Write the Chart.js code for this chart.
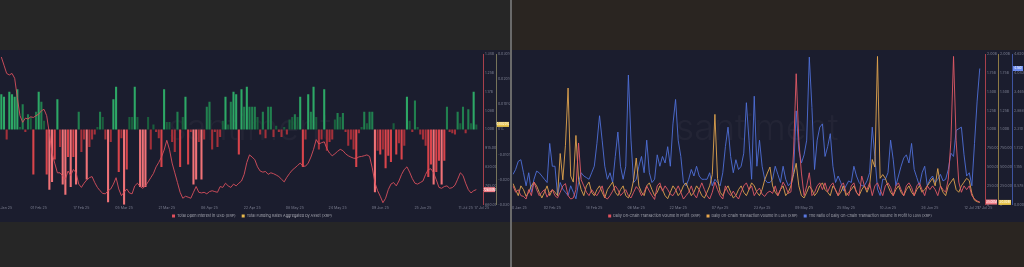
<!DOCTYPE html>
<html>
<head>
<meta charset="utf-8">
<script src="https://cdn.jsdelivr.net/npm/chart.js@4.4.1/dist/chart.umd.min.js"></script>
<style>
  html, body { margin: 0; padding: 0; width: 1024px; height: 267px; overflow: hidden; background: #262626; }
  #rightBg { position: absolute; left: 512px; top: 0; width: 512px; height: 267px; background: #2a2521; }
  #divider { position: absolute; left: 510px; top: 0; width: 2px; height: 267px; background: #6a6a6a; }
  .panel { position: absolute; top: 50px; height: 172px; background: #1b1d2e; }
  #leftPanel { left: 0; width: 510px; }
  #rightPanel { left: 512px; width: 512px; }
</style>
</head>
<body>
<div id="rightBg"></div>
<div id="divider"></div>
<div class="panel" id="leftPanel"><canvas id="left" width="510" height="172"></canvas></div>
<div class="panel" id="rightPanel"><canvas id="right" width="512" height="172"></canvas></div>
<script>
// daily values, XRP, Jan - Jul 2025
const startDay = Date.UTC(2025, 0, 18)
const dayCount = 181
const months = ["Jan", "Feb", "Mar", "Apr", "May", "Jun", "Jul", "Aug", "Sep", "Oct", "Nov", "Dec"]

const leftTickDays = [1, 14, 30, 46, 62, 78, 94, 110, 126, 142, 158, 174, 180]
const rightTickDays = [2, 15, 31, 47, 63, 79, 95, 111, 127, 143, 159, 175, 180]

// open interest in USD, millions
const openInterest = [
  1327, 1290, 1253, 1246, 1253, 1231, 1143, 1062, 1032, 1051,
  1047, 1057, 1054, 1062, 1069, 1084, 1091, 1062, 981, 893,
  848, 804, 804, 790, 775, 812, 792, 819, 804, 753,
  738, 757, 772, 782, 787, 760, 738, 723, 711, 709,
  723, 731, 753, 782, 731, 701, 716, 731, 713, 709,
  745, 757, 742, 734, 745, 763, 782, 801, 831, 851,
  875, 907, 951, 910, 848, 804, 760, 716, 689, 698,
  694, 689, 716, 742, 716, 713, 716, 709, 719, 723,
  719, 716, 742, 738, 757, 745, 738, 753, 745, 757,
  767, 797, 851, 885, 875, 863, 831, 812, 807, 810,
  797, 804, 800, 794, 787, 775, 763, 784, 801, 816,
  826, 837, 848, 834, 834, 848, 875, 910, 954, 934,
  940, 944, 913, 893, 881, 890, 901, 910, 904, 890,
  881, 875, 870, 869, 876, 878, 881, 885, 878, 826,
  760, 723, 698, 669, 689, 728, 753, 760, 745, 767,
  797, 819, 831, 807, 778, 757, 753, 760, 767, 797,
  819, 822, 804, 772, 738, 734, 742, 745, 734, 737,
  748, 775, 804, 792, 757, 728, 713, 723, 728
]

// aggregated funding rate, percent
const fundingRates = [
  0.014, 0.013, -0.004, 0.015, 0.014, 0.013, 0.016, 0.001, 0.010, -0.001,
  0.006, 0.005, -0.018, 0.007, 0.015, 0.011, 0.0035, -0.018, -0.024, -0.021,
  -0.012, 0.012, -0.007, -0.022, -0.026, -0.011, -0.023, -0.011, -0.022, 0.007,
  -0.009, -0.004, -0.020, -0.007, -0.004, -0.002, 0.001, 0.007, 0.005, -0.004,
  -0.029, -0.005, 0.012, 0.017, -0.017, -0.0035, -0.030, -0.016, 0.005, 0.005,
  0.017, 0.005, -0.023, -0.023, -0.023, 0.005, -0.008, 0.002, -0.001, -0.0035,
  -0.015, 0.016, 0.003, 0.003, -0.005, -0.009, 0.007, -0.015, 0.005, 0.013,
  -0.014, -0.001, -0.022, -0.020, -0.005, -0.020, -0.004, 0.009, 0.011, -0.008,
  -0.001, -0.007, -0.003, 0.0035, 0.013, 0.002, 0.011, 0.015, 0.014, -0.010,
  0.016, 0.009, 0.017, 0.009, 0.009, 0.009, 0.005, -0.002, 0.007, -0.0035,
  0.009, 0.009, -0.003, 0.0015, -0.001, -0.003, 0.001, -0.002, 0.004, 0.005,
  0.006, 0.005, 0.013, -0.015, -0.004, 0.014, 0.007, 0.017, 0.005, -0.008,
  -0.004, 0.016, -0.0085, -0.005, -0.004, 0.004, 0.0065, 0.005, 0.0065, -0.001,
  -0.0065, -0.004, -0.008, -0.015, -0.0015, 0.001, 0.007, 0.0025, 0.007, 0.007,
  -0.025, -0.0085, -0.010, -0.008, -0.0155, -0.0105, -0.013, 0.0025, -0.010, -0.0055,
  -0.012, -0.0065, 0.013, 0.0035, -0.001, 0.0115, 0.001, -0.002, -0.004, -0.0065,
  -0.019, -0.014, -0.022, -0.017, -0.0125, -0.022, -0.0125, 0.009, -0.001, -0.0015,
  -0.002, 0.007, 0.0025, 0.009, -0.0015, 0.008, 0.0025, 0.015, 0.002
]

// on-chain volume in profit, millions XRP
const volumeProfit = [
  250, 165, 200, 120, 110, 75, 200, 120, 300, 200,
  120, 165, 200, 100, 165, 200, 120, 90, 165, 250,
  280, 120, 75, 90, 200, 820, 330, 250, 165, 120,
  200, 150, 120, 180, 250, 100, 75, 120, 180, 250,
  200, 120, 160, 200, 120, 90, 165, 240, 200, 120,
  165, 250, 180, 120, 70, 250, 290, 180, 250, 200,
  140, 120, 180, 250, 165, 75, 120, 165, 250, 140,
  90, 200, 290, 200, 120, 75, 165, 300, 200, 120,
  75, 250, 165, 120, 180, 120, 75, 165, 250, 290,
  200, 250, 120, 180, 220, 140, 110, 160, 180, 150,
  250, 120, 200, 300, 240, 150, 170, 700, 1740, 850,
  420, 120, 250, 424, 120, 160, 250, 290, 200, 290,
  170, 250, 290, 190, 120, 250, 290, 160, 120, 250,
  290, 160, 120, 380, 250, 200, 290, 120, 250, 290,
  200, 120, 250, 290, 230, 120, 250, 290, 200, 120,
  250, 290, 230, 120, 250, 290, 200, 120, 250, 200,
  250, 200, 120, 250, 200, 165, 340, 850, 1970, 850,
  300, 165, 250, 200, 250, 120, 75, 50, 35
]

// on-chain volume in loss, millions XRP
const volumeLoss = [
  280, 200, 120, 250, 200, 110, 165, 250, 300, 250,
  165, 90, 165, 250, 120, 200, 165, 120, 680, 330,
  790, 1550, 380, 300, 920, 340, 200, 120, 250, 300,
  165, 120, 200, 250, 165, 90, 200, 250, 300, 165,
  120, 200, 250, 120, 90, 165, 330, 620, 250, 165,
  120, 250, 290, 200, 120, 165, 250, 200, 120, 80,
  165, 250, 200, 120, 165, 250, 290, 200, 120, 165,
  250, 200, 120, 90, 165, 250, 400, 1200, 350, 165,
  120, 200, 250, 165, 90, 120, 200, 250, 165, 120,
  200, 290, 250, 165, 120, 200, 330, 420, 500, 250,
  165, 120, 200, 250, 120, 165, 250, 400, 550, 250,
  120, 90, 165, 250, 200, 120, 165, 250, 290, 200,
  165, 120, 250, 200, 120, 165, 250, 120, 165, 200,
  250, 165, 120, 200, 250, 165, 250, 600, 500, 1970,
  350, 400, 350, 250, 165, 120, 200, 250, 165, 120,
  200, 250, 165, 120, 200, 250, 165, 200, 250, 300,
  350, 250, 480, 250, 165, 120, 250, 300, 350, 200,
  165, 250, 300, 350, 320, 150, 60, 40, 30
]

// ratio of volume in profit to volume in loss
const profitLossRatio = [
  0.93, 1.08, 1.33, 1.38, 0.98, 0.58, 0.98, 0.38, 0.78, 1.03,
  0.98, 0.88, 0.78, 0.68, 1.88, 1.18, 1.18, 0.28, 0.68, 0.48,
  0.38, 0.28, 0.58, 0.38, 0.18, 0.68, 0.98, 0.88, 0.83, 0.78,
  0.98, 1.18, 1.88, 2.73, 1.98, 1.18, 0.78, 0.98, 0.68, 1.48,
  2.23, 1.18, 0.78, 1.18, 3.98, 1.98, 0.68, 0.78, 1.18, 1.48,
  0.98, 1.98, 0.98, 0.68, 0.78, 1.53, 1.18, 1.48, 1.28, 1.78,
  1.18, 2.48, 3.23, 1.98, 1.48, 0.68, 0.58, 0.78, 1.08, 0.88,
  1.18, 0.88, 0.78, 0.78, 0.78, 0.98, 0.58, 0.78, 0.68, 0.58,
  0.98, 1.78, 2.38, 1.48, 0.98, 1.38, 1.08, 1.18, 1.58, 3.13,
  1.98, 0.78, 3.33, 1.18, 1.98, 1.18, 0.78, 0.68, 0.68, 0.78,
  1.18, 0.93, 0.68, 1.18, 0.78, 0.58, 0.68, 0.98, 2.88, 1.68,
  1.28, 1.53, 1.98, 4.53, 2.98, 1.08, 1.98, 2.38, 2.48, 1.48,
  1.78, 2.18, 1.18, 0.68, 0.88, 0.68, 0.43, 0.58, 0.73, 0.68,
  1.18, 0.88, 0.68, 0.58, 0.58, 0.73, 0.98, 2.38, 1.48, 0.48,
  0.28, 0.78, 0.78, 0.98, 1.98, 1.38, 0.58, 0.88, 1.18, 1.43,
  1.53, 1.28, 1.88, 1.08, 0.83, 0.58, 0.98, 1.18, 0.58, 0.78,
  0.88, 0.68, 0.78, 0.93, 0.73, 0.78, 1.08, 1.58, 1.48, 2.28,
  2.33, 2.38, 1.53, 0.88, 0.98, 0.58, 1.88, 3.18, 4.18
]

const leftLegend = ["Total Open Interest in USD (XRP)", "Total Funding Rates Aggregated by Asset (XRP)"]
const leftLegendColors = ["#e0505c", "#e8b94c"]
const rightLegend = [
  "Daily On-Chain Transaction Volume in Profit (XRP)",
  "Daily On-Chain Transaction Volume in Loss (XRP)",
  "The Ratio of Daily On-Chain Transaction Volume in Profit to Loss (XRP)",
]
const rightLegendColors = ["#e0505c", "#e8a64c", "#5a78e0"]

const days = []
for (let k = 0; k < dayCount; k++) {
  const d = new Date(startDay + k * 86400000)
  days.push(String(d.getUTCDate()).padStart(2, "0") + " " + months[d.getUTCMonth()] + " 25")
}

const tickFont = { family: "Inter", size: 3.6 }
const tickColor = "#7b7e90"

function formatUsd(v) {
  if (v === 0) return "0"
  if (v >= 1000) return (v / 1000).toFixed(2) + "B"
  return v.toFixed(2) + "M"
}

function barColor(v) {
  if (v >= 0) {
    if (v >= 0.012) return "#2da866"
    if (v >= 0.006) return "#21804f"
    return "#1a5f3d"
  }
  if (v <= -0.02) return "#f07277"
  if (v <= -0.01) return "#d8444b"
  return "#a3303a"
}

function xAxis(tickDays, offset) {
  return {
    type: "category",
    offset: offset,
    grid: { display: false, drawTicks: false },
    border: { display: false },
    ticks: {
      autoSkip: false, maxRotation: 0, minRotation: 0, padding: 1,
      font: tickFont, color: tickColor,
      callback: (value, index) => tickDays.includes(index) ? days[index] : "",
    },
  }
}

function yAxis(min, max, step, weight, width, color, format) {
  return {
    position: "right",
    weight: weight,
    min: min,
    max: max,
    grid: { display: false, drawTicks: false },
    border: { display: true, color: color, width: 1 },
    ticks: { stepSize: step, padding: 2, font: tickFont, color: tickColor, callback: format },
    afterFit: scale => { scale.width = width },
  }
}

// faint brand text behind the data
const watermark = {
  id: "watermark",
  beforeDatasetsDraw(chart) {
    const a = chart.chartArea
    const ctx = chart.ctx
    ctx.save()
    ctx.font = "300 36px Inter"
    ctx.fillStyle = "rgba(255,255,255,0.035)"
    ctx.textAlign = "center"
    ctx.textBaseline = "middle"
    ctx.fillText("santiment", (a.left + a.right) / 2 + 8, (a.top + a.bottom) / 2)
    ctx.restore()
  },
}

// small legend row under the x axis
const bottomLegend = {
  id: "bottomLegend",
  afterDraw(chart, args, opts) {
    const ctx = chart.ctx
    const box = 3, boxGap = 2, gap = 6
    ctx.save()
    ctx.font = opts.size + "px Inter"
    ctx.textBaseline = "middle"
    const widths = opts.names.map(t => box + boxGap + ctx.measureText(t).width)
    const total = widths.reduce((a, b) => a + b, 0) + gap * (widths.length - 1)
    let x = (chart.width - total) / 2 + opts.shift
    const y = chart.height - opts.bottom
    opts.names.forEach((t, k) => {
      ctx.fillStyle = opts.colors[k]
      ctx.fillRect(x, y - box / 2, box, box)
      ctx.fillStyle = "#a2a3ad"
      ctx.fillText(t, x + box + boxGap, y)
      x += widths[k] + gap
    })
    ctx.restore()
  },
}

// coloured tag with the latest value on each axis
const lastValueTags = {
  id: "lastValueTags",
  afterDraw(chart, args, opts) {
    const ctx = chart.ctx
    opts.tags.forEach(tag => {
      const scale = chart.scales[tag.axis]
      const data = chart.data.datasets[tag.dataset].data
      const v = data[data.length - 1]
      const y = scale.getPixelForValue(v)
      ctx.save()
      ctx.fillStyle = tag.color
      ctx.fillRect(scale.left + 1, y - 2.5, scale.width - 2, 5)
      ctx.fillStyle = "#ffffff"
      ctx.font = "3px Inter"
      ctx.textAlign = "center"
      ctx.textBaseline = "middle"
      ctx.fillText(tag.format(v), scale.left + scale.width / 2, y)
      ctx.restore()
    })
  },
}

new Chart(document.getElementById("left"), {
  data: {
    labels: days,
    datasets: [
      {
        type: "line", label: leftLegend[0], data: openInterest, yAxisID: "oi",
        borderColor: "#d9505d", borderWidth: 0.9, pointRadius: 0, tension: 0, order: 0,
      },
      {
        type: "bar", label: leftLegend[1], data: fundingRates, yAxisID: "fr",
        backgroundColor: fundingRates.map(barColor), barPercentage: 0.78, categoryPercentage: 1, order: 1,
      },
    ],
  },
  options: {
    responsive: false,
    animation: false,
    layout: { padding: { top: 2, left: 0, right: 0, bottom: 11 } },
    scales: {
      x: xAxis(leftTickDays, true),
      oi: yAxis(660, 1340, 85, 0, 13, "#a8404b", formatUsd),
      fr: yAxis(-0.03, 0.03, 0.01, 1, 14, "#77745a", v => v === 0 ? "0%" : v.toFixed(3) + "%"),
    },
    plugins: {
      legend: { display: false },
      tooltip: { enabled: false },
      bottomLegend: { names: leftLegend, colors: leftLegendColors, size: 3.8, bottom: 6, shift: -3 },
      lastValueTags: {
        tags: [
          { axis: "oi", dataset: 0, color: "#f07d86", format: formatUsd },
          { axis: "fr", dataset: 1, color: "#e8c44c", format: v => v.toFixed(4) + "%" },
        ],
      },
    },
  },
  plugins: [watermark, bottomLegend, lastValueTags],
})

new Chart(document.getElementById("right"), {
  type: "line",
  data: {
    labels: days,
    datasets: [
      { label: rightLegend[0], data: volumeProfit, yAxisID: "profit", borderColor: "#e25a66", borderWidth: 0.9, pointRadius: 0, tension: 0 },
      { label: rightLegend[1], data: volumeLoss, yAxisID: "loss", borderColor: "#e2a54e", borderWidth: 0.9, pointRadius: 0, tension: 0 },
      { label: rightLegend[2], data: profitLossRatio, yAxisID: "ratio", borderColor: "#4f6fd8", borderWidth: 0.9, pointRadius: 0, tension: 0 },
    ],
  },
  options: {
    responsive: false,
    animation: false,
    layout: { padding: { top: 2, left: 0, right: 0, bottom: 11 } },
    scales: {
      x: xAxis(rightTickDays, false),
      profit: yAxis(0, 2000, 250, 0, 13, "#a8404b", formatUsd),
      loss: yAxis(0, 2000, 250, 1, 14, "#8d7a45", formatUsd),
      ratio: yAxis(0, 4.62, 0.5775, 2, 12, "#3e54a0", v => v.toFixed(3)),
    },
    plugins: {
      legend: { display: false },
      tooltip: { enabled: false },
      bottomLegend: { names: rightLegend, colors: rightLegendColors, size: 3.7, bottom: 6, shift: 2 },
      lastValueTags: {
        tags: [
          { axis: "profit", dataset: 0, color: "#f07d86", format: formatUsd },
          { axis: "loss", dataset: 1, color: "#e8c44c", format: formatUsd },
          { axis: "ratio", dataset: 2, color: "#6d8cf0", format: v => v.toFixed(3) },
        ],
      },
    },
  },
  plugins: [watermark, bottomLegend, lastValueTags],
})
</script>
</body>
</html>
